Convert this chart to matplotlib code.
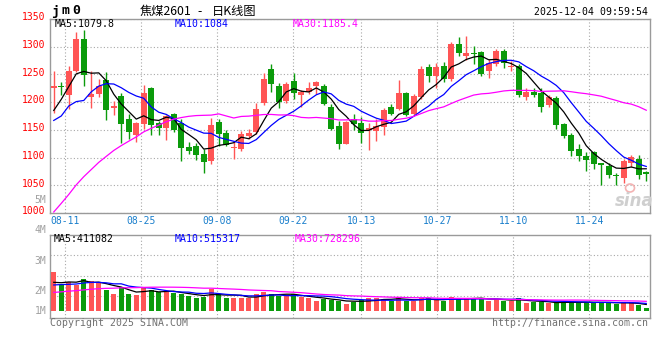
import matplotlib
matplotlib.use('Agg')
import matplotlib.pyplot as plt
import matplotlib.transforms as mtransforms
from matplotlib.patches import Ellipse
import numpy as np
import pandas as pd

plt.rcParams['font.family'] = ['DejaVu Sans Mono', 'Noto Sans CJK SC']

# ---------------- data ----------------
dates = ['08-07', '08-08', '08-11', '08-12', '08-13', '08-14', '08-15', '08-18', '08-19', '08-20',
         '08-21', '08-22', '08-25', '08-26', '08-27', '08-28', '08-29', '09-01', '09-02', '09-03',
         '09-04', '09-05', '09-08', '09-09', '09-10', '09-11', '09-12', '09-15', '09-16', '09-17',
         '09-18', '09-19', '09-22', '09-23', '09-24', '09-25', '09-26', '09-29', '09-30', '10-09',
         '10-10', '10-13', '10-14', '10-15', '10-16', '10-17', '10-20', '10-21', '10-22', '10-23',
         '10-24', '10-27', '10-28', '10-29', '10-30', '10-31', '11-03', '11-04', '11-05', '11-06',
         '11-07', '11-10', '11-11', '11-12', '11-13', '11-14', '11-17', '11-18', '11-19', '11-20',
         '11-21', '11-24', '11-25', '11-26', '11-27', '11-28', '12-01', '12-02', '12-03', '12-04']

opens = [1225, 1229, 1213, 1256, 1314, 1210, 1214, 1240, 1189, 1211,
         1169, 1140, 1160, 1226, 1162, 1154, 1178, 1162, 1119, 1121,
         1106, 1094, 1164, 1144, 1117, 1116, 1139, 1146, 1199, 1259,
         1230, 1202, 1238, 1212, 1218, 1229, 1230, 1192, 1157, 1124,
         1170, 1163, 1150, 1148, 1155, 1191, 1188, 1216, 1178, 1210,
         1263, 1248, 1266, 1241, 1304, 1283, 1289, 1290, 1256, 1268,
         1292, 1264, 1266, 1209, 1219, 1216, 1194, 1207, 1160, 1140,
         1116, 1103, 1110, 1090, 1085, 1068, 1063, 1091, 1097, 1074]
highs = [1256, 1237, 1265, 1326, 1330, 1256, 1242, 1254, 1202, 1217,
         1178, 1165, 1231, 1228, 1166, 1176, 1181, 1169, 1128, 1126,
         1115, 1171, 1169, 1150, 1130, 1148, 1152, 1199, 1253, 1269,
         1234, 1236, 1253, 1222, 1236, 1239, 1233, 1196, 1166, 1166,
         1179, 1174, 1162, 1169, 1189, 1197, 1240, 1218, 1215, 1265,
         1268, 1271, 1273, 1308, 1317, 1320, 1301, 1292, 1277, 1296,
         1295, 1274, 1268, 1225, 1226, 1226, 1213, 1211, 1162, 1145,
         1124, 1110, 1112, 1091, 1090, 1073, 1097, 1104, 1104, 1076]
lows = [1180, 1212, 1188, 1254, 1230, 1190, 1209, 1167, 1176, 1126,
        1133, 1128, 1151, 1140, 1140, 1131, 1146, 1094, 1107, 1096,
        1073, 1088, 1121, 1121, 1098, 1112, 1133, 1142, 1194, 1218,
        1190, 1199, 1205, 1192, 1215, 1214, 1194, 1150, 1115, 1124,
        1150, 1126, 1114, 1130, 1140, 1176, 1185, 1175, 1176, 1205,
        1237, 1226, 1237, 1238, 1284, 1276, 1268, 1247, 1244, 1266,
        1262, 1257, 1210, 1204, 1210, 1182, 1192, 1151, 1136, 1102,
        1094, 1076, 1079, 1051, 1064, 1051, 1055, 1083, 1061, 1058]
closes = [1230, 1227, 1257, 1314, 1249, 1214, 1230, 1186, 1193, 1160,
          1146, 1162, 1216, 1158, 1153, 1175, 1150, 1118, 1112, 1105,
          1092, 1158, 1143, 1122, 1119, 1142, 1144, 1187, 1241, 1232,
          1200, 1232, 1217, 1218, 1225, 1236, 1196, 1152, 1124, 1164,
          1160, 1144, 1153, 1157, 1186, 1178, 1216, 1176, 1211, 1260,
          1248, 1264, 1241, 1304, 1288, 1288, 1286, 1250, 1270, 1292,
          1270, 1266, 1213, 1218, 1213, 1192, 1210, 1158, 1139, 1112,
          1102, 1096, 1088, 1086, 1069, 1066, 1093, 1101, 1069, 1070]
volumes = [3760000, 2400000, 2670000, 2400000, 3010000, 2810000, 2570000, 1890000, 1450000, 2230000,
           1450000, 1380000, 2120000, 1890000, 1650000, 1650000, 1550000, 1450000, 1310000, 1100000,
           1200000, 1990000, 1450000, 1100000, 1100000, 1100000, 1100000, 1450000, 1710000, 1510000,
           1310000, 1310000, 1450000, 1140000, 1040000, 800000, 940000, 870000, 770000, 460000,
           690000, 870000, 1040000, 1040000, 970000, 770000, 1170000, 770000, 770000, 1040000,
           1050000, 870000, 770000, 1200000, 1040000, 1040000, 1060000, 940710, 800000, 940000,
           800000, 800000, 1060000, 560000, 630000, 630000, 560000, 650000, 650000, 645000,
           630000, 625000, 615000, 612760, 615000, 490000, 560000, 560000, 365000, 80410]
# closes / volumes of the 29 sessions before the window (estimated from the MA curves)
pre_close = [762, 775, 793, 808, 826, 842, 861, 873, 897, 908, 930, 943, 965, 976, 996,
             1010, 1033, 1044, 1065, 1078, 1147, 1077, 1234, 1229, 1058, 1127, 1142, 1199, 1227]
pre_volume = [600000, 650000, 700000, 760000, 800000, 850000, 900000, 1000000, 1050000, 1100000,
              1200000, 1300000, 1400000, 1500000, 1600000, 1700000, 1800000, 1900000, 2100000, 2290000,
              2000000, 2400000, 2100000, 1950000, 2200000, 2600000, 2300000, 2500000, 2200000]

date_ticks = ['08-11', '08-25', '09-08', '09-22', '10-13', '10-27', '11-10', '11-24']
price_ticks = [1000, 1050, 1100, 1150, 1200, 1250, 1300, 1350]
vol_tick_labels = ['5M', '4M', '3M', '2M', '1M']
ma_periods = [5, 10, 30]
title_code = 'jm0'
title_name = '焦煤2601 - 日K线图'
timestamp = '2025-12-04 09:59:54'

# ---------------- style ----------------
W, H = 660, 360
RED = '#ff5555'
GREEN = '#0b9b0b'
MA_COLORS = ['#000000', '#0000ff', '#ff00ff']
GRID = '#a8a8a8'
SPINE = '#9a9a9a'
BLUE_TXT = '#1a7fcc'

def fx(x):
    return x / W

def fy(y):
    return 1 - y / H

fig = plt.figure(figsize=(W / 100, H / 100), dpi=100)
fig.patch.set_facecolor('white')

ax = fig.add_axes([fx(50), fy(213), 600 / W, 194 / H])
axv = fig.add_axes([fx(50), fy(318), 600 / W, 83 / H])

n = len(dates)
x = np.arange(n)
o = np.array(opens, float)
hi = np.array(highs, float)
lo = np.array(lows, float)
c = np.array(closes, float)
v = np.array(volumes, float)
up = c >= o
cols = np.where(up, RED, GREEN)

# x positions of the date grid (Sina spaces them over n-1 intervals)
tick_idx = np.array([dates.index(d) for d in date_ticks])
tick_x = tick_idx * n / (n - 1) - 0.5

# ---------------- price panel ----------------
ax.set_xlim(-0.5, n - 0.5)
ax.set_ylim(price_ticks[0], price_ticks[-1])
ax.vlines(x, lo, hi, colors=cols, linewidth=1.0, zorder=3)
body_h = np.maximum(np.abs(c - o), 1.6)
ax.bar(x, body_h, bottom=np.minimum(o, c), width=0.76, color=cols, linewidth=0, zorder=4)

full_close = pd.Series(pre_close + closes, dtype=float)
ma_vals = []
for p, col in zip(ma_periods, MA_COLORS):
    ma = full_close.rolling(p).mean().to_numpy()[len(pre_close):]
    ma_vals.append(ma[-1])
    ax.plot(x, ma, color=col, linewidth=0.9, zorder=5, clip_on=True)

ax.set_yticks(price_ticks)
ax.set_yticklabels([str(t) for t in price_ticks])
ax.set_xticks(tick_x)
ax.set_xticklabels(date_ticks)
ax.tick_params(axis='y', length=0, pad=3.5, labelcolor='#ff0000', labelsize=7)
ax.tick_params(axis='x', length=0, pad=2.5, labelcolor=BLUE_TXT, labelsize=7)
off = mtransforms.ScaledTranslation(0, 2 / 72, fig.dpi_scale_trans)
for lab in ax.get_yticklabels():
    lab.set_transform(lab.get_transform() + off)
ax.grid(True, color=GRID, linestyle=(0, (1, 2)), linewidth=0.8)
for s in ax.spines.values():
    s.set_color(SPINE)
    s.set_linewidth(1.0)

# ---------------- volume panel ----------------
VOL_PX = 9.8 / 1e6       # pixels per lot
vol_lo = -9.5 / VOL_PX
vol_hi = 73.5 / VOL_PX
vol_floor = -2.5 / VOL_PX
axv.set_xlim(-0.5, n - 0.5)
axv.set_ylim(vol_lo, vol_hi)
axv.bar(x, v - vol_floor, bottom=vol_floor, width=0.73, color=cols, linewidth=0, zorder=3)
full_vol = pd.Series(pre_volume + volumes, dtype=float)
vma_vals = []
for p, col in zip(ma_periods, MA_COLORS):
    vma = full_vol.rolling(p).mean().to_numpy()[len(pre_volume):]
    vma_vals.append(vma[-1])
    axv.plot(x, vma, color=col, linewidth=0.9, zorder=5)

axv.set_xticks(tick_x)
axv.set_xticklabels([])
axv.set_yticks([(308.5 - yy) / VOL_PX for yy in (255, 275.7, 295.7)])
axv.set_yticklabels([])
axv.tick_params(length=0)
axv.grid(True, color=GRID, linestyle=(0, (1, 2)), linewidth=0.8)
for s in axv.spines.values():
    s.set_color(SPINE)
    s.set_linewidth(1.0)

for lab, yy in zip(vol_tick_labels, [200, 230, 261, 291, 311]):
    fig.text(fx(46.5), fy(yy), lab, ha='right', va='center', color='#a0a0a0', fontsize=7)

# ---------------- texts ----------------
def fmt_price(val):
    s = f'{val:.1f}'
    return s[:-2] if s.endswith('.0') else s

for ch_i, ch in enumerate(title_code):
    fig.text(fx(55.5 + ch_i * 10.5), fy(11), ch, ha='center', va='center',
             fontsize=9.5, fontweight='bold', color='#000000')
for part, xx in zip(title_name.split(' '), [140, 197, 212]):
    fig.text(fx(xx), fy(11.5), part, ha='left', va='center', fontsize=8.8,
             family=['Noto Sans CJK SC', 'DejaVu Sans'], color='#000000')
fig.text(fx(648), fy(12), timestamp, ha='right', va='center', fontsize=7.1, color='#000000')

ma_x = [55, 175, 293]
for p, col, val, xx in zip(ma_periods, MA_COLORS, ma_vals, ma_x):
    fig.text(fx(xx), fy(24), f'MA{p}:{fmt_price(val)}', ha='left', va='center',
             fontsize=7.1, color=col)
vma_x = [54, 175, 295]
for p, col, val, xx in zip(ma_periods, MA_COLORS, vma_vals, vma_x):
    fig.text(fx(xx), fy(238.7), f'MA{p}:{int(round(val))}', ha='left', va='center',
             fontsize=7.1, color=col)

fig.text(fx(50), fy(323.5), 'Copyright 2025 SINA.COM', ha='left', va='center',
         fontsize=7.1, color='#707070')
fig.text(fx(648), fy(323.5), 'http://finance.sina.com.cn', ha='right', va='center',
         fontsize=7.1, color='#707070')

# sina watermark
fig.text(fx(634), fy(201), 'sina', ha='center', va='center', fontsize=12,
         fontweight='bold', fontstyle='italic', color='#cfcfcf', family='DejaVu Sans')
fig.patches.append(Ellipse((fx(630), fy(188)), 9 / W, 8 / H, transform=fig.transFigure,
                           fill=False, edgecolor='#f3b3b3', linewidth=1.2))

fig.savefig('out.png', dpi=100, facecolor='white')
